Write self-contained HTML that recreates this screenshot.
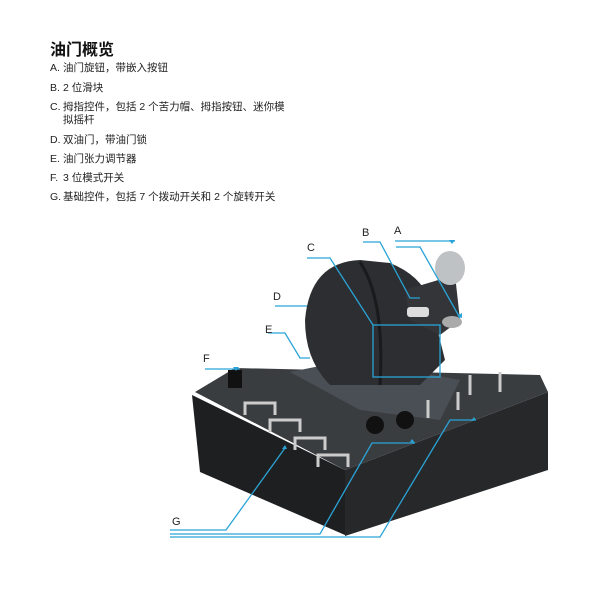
<!DOCTYPE html>
<html><head><meta charset="utf-8"><style>
body{margin:0;background:#fff;width:600px;height:600px;overflow:hidden;font-family:"Liberation Sans","Noto Sans CJK SC",sans-serif;}
.t{position:absolute;left:50px;top:36px;font-size:16px;font-weight:bold;color:#111}
.l{position:absolute;left:50px;font-size:10.5px;color:#222;line-height:13px}
.l span{display:inline-block;width:13px}
</style></head><body>
<div class="t">油门概览</div>
<div class="l" style="top:62px"><span>A.</span>油门旋钮，带嵌入按钮</div>
<div class="l" style="top:82px"><span>B.</span>2 位滑块</div>
<div class="l" style="top:101px"><span>C.</span>拇指控件，包括 2 个苦力帽、拇指按钮、迷你模<br><span></span>拟摇杆</div>
<div class="l" style="top:134px"><span>D.</span>双油门，带油门锁</div>
<div class="l" style="top:153px"><span>E.</span>油门张力调节器</div>
<div class="l" style="top:172px"><span>F.</span>3 位模式开关</div>
<div class="l" style="top:191px"><span>G.</span>基础控件，包括 7 个拨动开关和 2 个旋转开关</div>
<svg width="600" height="600" style="position:absolute;left:0;top:0" font-family="Liberation Sans, sans-serif" font-size="11">
<polygon points="192,395 345,470 345,535 200,472" fill="#1e1f21"/>
<polygon points="345,470 548,392 548,470 345,536" fill="#26282a"/>
<polygon points="195,392 235,368 540,375 548,392 345,470" fill="#3a3d40"/>
<polygon points="290,372 350,360 460,380 440,420 360,410" fill="#4a4f55"/>
<g stroke="#ccc" stroke-width="3" fill="none">
<path d="M245,415 v-12 h30 v12"/><path d="M270,432 v-12 h30 v12"/><path d="M295,450 v-12 h30 v12"/><path d="M318,467 v-12 h30 v12"/>
<path d="M470,395 v-20"/><path d="M500,392 v-20"/><path d="M458,410 v-18"/><path d="M428,418 v-18"/>
</g>
<circle cx="375" cy="425" r="9" fill="#111"/><circle cx="405" cy="420" r="9" fill="#111"/>
<rect x="228" y="370" width="14" height="18" fill="#111"/>
<path d="M305,320 Q310,262 360,260 L390,263 Q420,275 430,300 L445,360 L420,385 L330,385 Q305,360 305,320Z" fill="#2c2e31"/>
<path d="M360,262 Q385,300 380,385" stroke="#1a1a1c" stroke-width="3" fill="none"/>
<path d="M405,290 L455,275 L460,320 L440,335 L410,320Z" fill="#333538"/>
<ellipse cx="450" cy="268" rx="15" ry="17" fill="#bfc2c5"/>
<ellipse cx="452" cy="322" rx="10" ry="6" fill="#aaa"/>
<rect x="407" y="307" width="22" height="10" rx="3" fill="#ddd"/>
<g stroke="#2aa3d6" stroke-width="1.3" fill="none">
<path d="M395,241 H455"/><path d="M396,247 H420 L460,318"/>
<path d="M363,242 H380 L410,298 H420"/>
<path d="M307,258 H330 L373,325"/><rect x="373" y="325" width="67" height="52"/>
<path d="M275,306 H307"/><path d="M268,333 H285 L300,358 H310"/><path d="M205,369 H240"/>
<path d="M170,530 H226 L285,448"/><path d="M170,534 H320 L372,443 H415"/><path d="M170,537 H380 L450,420 H476"/>
</g>
<g fill="#2aa3d6"><path d="M449,240 h6 l-3,4z"/><path d="M457,316 l5,-3 l0,5z"/><path d="M233,367 h6 l-3,4z"/><path d="M282,449 l5,0 l-2,-4z"/><path d="M410,442 l5,1 l-3,-4z"/><path d="M471,421 l5,-1 l-2,-3z"/></g>
<g fill="#222"><text x="394" y="234">A</text><text x="362" y="236">B</text><text x="307" y="251">C</text><text x="273" y="300">D</text><text x="265" y="333">E</text><text x="203" y="362">F</text><text x="172" y="525">G</text></g>
</svg>
</body></html>
